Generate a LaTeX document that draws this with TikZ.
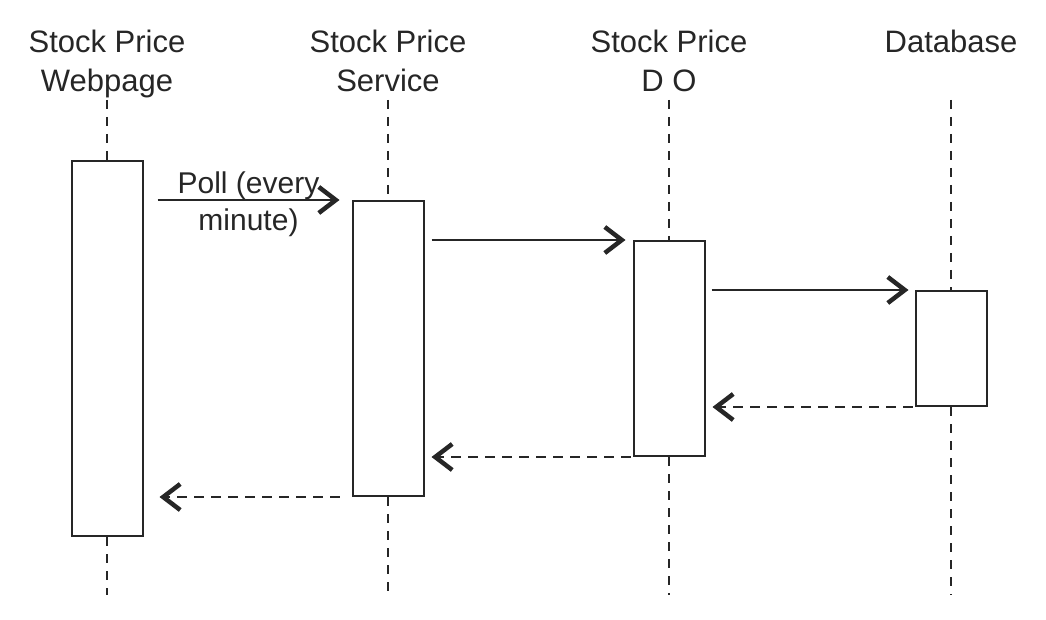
\documentclass[tikz,border=0pt]{standalone}
\usepackage{fontspec}
\setmainfont{Liberation Sans}
\usetikzlibrary{arrows.meta,calc}
\definecolor{ink}{HTML}{262626}
\begin{document}
\begin{tikzpicture}[x=1pt,y=-1pt,
  head/.style={font=\fontsize{31}{39}\selectfont, text=ink, align=center, inner sep=0pt},
  lbl/.style={font=\fontsize{30}{37}\selectfont, text=ink, align=center, inner sep=0pt},
  life/.style={draw=ink, line width=2.2pt, dash pattern=on 9pt off 8pt},
  act/.style={draw=ink, fill=white, line width=2pt, minimum width=71pt, inner sep=0pt, anchor=north},
  msg/.style={draw=ink, line width=2pt, -{Straight Barb[length=17pt,width=26pt,line width=4.5pt]}},
  ret/.style={msg, dash pattern=on 10pt off 7pt}]
\useasboundingbox (0,0) rectangle (1046,620);
% headers
\node[head, anchor=base] (hw) at (107,92) {Stock Price\\Webpage};
\node[head, anchor=base] (hs) at (388,92) {Stock Price\\Service};
\node[head, anchor=base] (hd) at (669,92) {Stock Price\\D O};
\node[head, anchor=base] (hb) at (951,53) {Database};
% lifeline ends
\coordinate (wt) at (107,100); \coordinate (wb) at (107,595);
\coordinate (st) at (388,100); \coordinate (sb) at (388,595);
\coordinate (dt) at (669,100); \coordinate (db) at (669,595);
\coordinate (bt) at (951,100); \coordinate (bb) at (951,595);
% activation boxes
\node[act, minimum height=375pt] (w) at (107,160) {};
\node[act, minimum height=295pt] (s) at (388,200) {};
\node[act, minimum height=215pt] (d) at (669,240) {};
\node[act, minimum height=115pt] (b) at (951,290) {};
% lifelines
\draw[life] (wt) -- (w.north); \draw[life] (w.south) -- (wb);
\draw[life] (st) -- (s.north); \draw[life] (s.south) -- (sb);
\draw[life] (dt) -- (d.north); \draw[life] (d.south) -- (db);
\draw[life] (bt) -- (b.north); \draw[life] (b.south) -- (bb);
% messages
\draw[msg] ($(w.east |- s.north)+(14,0)$) -- node[lbl, yshift=-4pt] {Poll (every\\minute)} ($(s.north west)+(-12,0)$);
\draw[msg] ($(s.east |- d.north)+(7,0)$) -- ($(d.north west)+(-7,0)$);
\draw[msg] ($(d.east |- b.north)+(6,0)$) -- ($(b.north west)+(-6,0)$);
\draw[ret] ($(b.south west)+(-2,0)$) -- ($(d.east |- b.south)+(7,0)$);
\draw[ret] ($(d.south west)+(-2,0)$) -- ($(s.east |- d.south)+(7,0)$);
\draw[ret] ($(s.south west)+(-12,0)$) -- ($(w.east |- s.south)+(16,0)$);
\end{tikzpicture}
\end{document}
